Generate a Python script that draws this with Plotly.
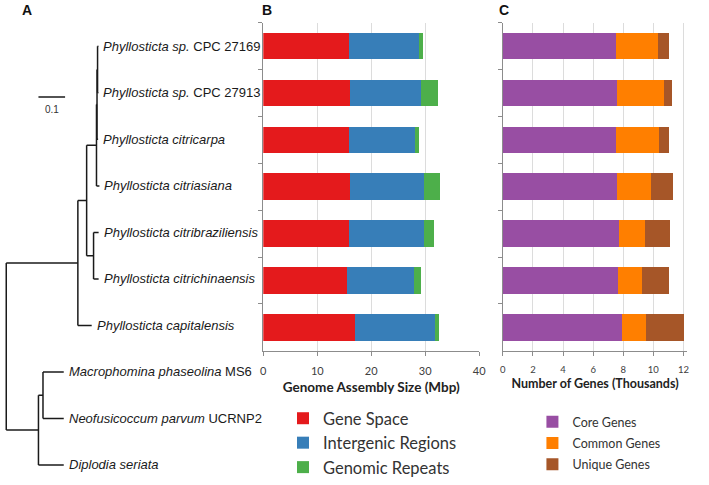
import plotly.graph_objects as go

W, H = 709, 485

# ---------------- data ----------------
species = ["Phyllosticta sp. CPC 27169", "Phyllosticta sp. CPC 27913", "Phyllosticta citricarpa",
           "Phyllosticta citriasiana", "Phyllosticta citribraziliensis", "Phyllosticta citrichinaensis",
           "Phyllosticta capitalensis"]

# Genome assembly size (Mbp)
gene_space = [15.8, 16.0, 15.8, 16.1, 15.9, 15.5, 17.0]
intergenic = [13.0, 13.2, 12.4, 13.6, 13.9, 12.4, 14.9]
repeats = [0.7, 3.1, 0.7, 3.1, 1.9, 1.3, 0.6]

# Number of genes (thousands)
core_genes = [7.52, 7.60, 7.52, 7.56, 7.71, 7.65, 7.89]
common_genes = [2.79, 3.11, 2.86, 2.30, 1.71, 1.62, 1.60]
unique_genes = [0.73, 0.51, 0.66, 1.44, 1.66, 1.77, 2.56]

size_ticks = [0, 10, 20, 30, 40]
gene_ticks = [0, 2, 4, 6, 8, 10, 12]

# Phylogeny: (label, branch length, children); leaf labels with HTML styling
tree = ("root", 0.0, [
    ("P", 0.269, [
        ("Q", 0.033, [
            ("R1", 0.037, [
                ("R2", 0.002, [
                    ("R3", 0.002, [
                        ("<i>Phyllosticta sp.</i> CPC 27169", 0.003, []),
                        ("<i>Phyllosticta sp.</i> CPC 27913", 0.003, []),
                    ]),
                    ("<i>Phyllosticta citricarpa</i>", 0.004, []),
                ]),
                ("<i>Phyllosticta citriasiana</i>", 0.011, []),
            ]),
            ("S", 0.026, [
                ("<i>Phyllosticta citribraziliensis</i>", 0.019, []),
                ("<i>Phyllosticta citrichinaensis</i>", 0.019, []),
            ]),
        ]),
        ("<i>Phyllosticta capitalensis</i>", 0.052, []),
    ]),
    ("O", 0.121, [
        ("T", 0.017, [
            ("<i>Macrophomina phaseolina</i> MS6", 0.078, []),
            ("<i>Neofusicoccum parvum</i> UCRNP2", 0.078, []),
        ]),
        ("<i>Diplodia seriata</i>", 0.095, []),
    ]),
])
scale_bar_length = 0.1

# ---------------- styling ----------------
RED, BLUE, GREEN = "#E41A1C", "#377EB8", "#4DAF4A"
PURPLE, ORANGE, BROWN = "#984EA3", "#FF7F00", "#A65628"
AXIS = "#8c8c8c"
GRID = "#dcdcdc"
LABEL_FONT = "Lato, Open Sans, sans-serif"
TREE_FONT = "Liberation Sans, Arial, sans-serif"

def px_dom_x(a, b):
    return [a / W, b / W]

def px_dom_y(top, bottom):
    return [(H - bottom) / H, (H - top) / H]

# ---------------- tree layout ----------------
leaf_y = {"i": 0}
xs, ys, leaves = [], [], []

def layout(node, x0):
    name, bl, kids = node
    x = x0 + bl
    if not kids:
        y = leaf_y["i"]
        leaf_y["i"] += 1
        leaves.append((name, x, y))
    else:
        cy = [layout(k, x) for k in kids]
        ys_k = [c[1] for c in cy]
        y = (ys_k[0] + ys_k[-1]) / 2
        xs.extend([x, x, None]); ys.extend([ys_k[0], ys_k[-1], None])
        for cx, cyv in cy:
            xs.extend([x, cx, None]); ys.extend([cyv, cyv, None])
    return (x, y)

layout(tree, 0.0)

tree_px_per_unit = 270.0
tree_root_px = 3.3
tree_right_px = 255.0
row0_px, row_step = 47.0, 47.2

fig = go.Figure()

fig.add_trace(go.Scatter(x=xs, y=ys, mode="lines", line=dict(color="#1a1a1a", width=1.5),
                         hoverinfo="skip", showlegend=False, xaxis="x", yaxis="y"))
fig.add_trace(go.Scatter(x=[0.121, 0.121 + scale_bar_length], y=[1.087, 1.087], mode="lines",
                         line=dict(color="#1a1a1a", width=1.5), hoverinfo="skip",
                         showlegend=False, xaxis="x", yaxis="y"))

annotations = []
for name, x, y in leaves:
    annotations.append(dict(x=x, y=y, xref="x", yref="y", text=name, showarrow=False,
                            xanchor="left", yanchor="middle", xshift=3,
                            font=dict(family=TREE_FONT, size=13, color="#1a1a1a")))
annotations.append(dict(x=0.121 + scale_bar_length / 2, y=1.087, xref="x", yref="y", text="0.1",
                        showarrow=False, xanchor="center", yanchor="top", yshift=-5,
                        font=dict(family=TREE_FONT, size=10, color="#333333")))

# ---------------- bars B ----------------
for name, vals, col in [("Gene Space", gene_space, RED),
                        ("Intergenic Regions", intergenic, BLUE),
                        ("Genomic Repeats", repeats, GREEN)]:
    fig.add_trace(go.Bar(x=vals, y=species, orientation="h", name=name, marker_color=col,
                         marker_line_width=0, xaxis="x2", yaxis="y2", legend="legend",
                         legendgroup=name))

# ---------------- bars C ----------------
for name, vals, col in [("Core Genes", core_genes, PURPLE),
                        ("Common Genes", common_genes, ORANGE),
                        ("Unique Genes", unique_genes, BROWN)]:
    fig.add_trace(go.Bar(x=vals, y=species, orientation="h", name=name, marker_color=col,
                         marker_line_width=0, xaxis="x3", yaxis="y3", legend="legend2",
                         legendgroup=name))

for letter, xp in [("A", 24), ("B", 268), ("C", 508)]:
    annotations.append(dict(x=xp / W, y=(H - 10) / H, xref="paper", yref="paper", text=f"<b>{letter}</b>",
                            showarrow=False, xanchor="center", yanchor="middle",
                            font=dict(family=TREE_FONT, size=14, color="#111111")))

cat_axis = dict(type="category", categoryorder="array", categoryarray=species,
                range=[6.5, -0.5], showticklabels=False, ticks="outside", tickson="boundaries",
                ticklen=4, tickcolor=AXIS, showline=True, linecolor=AXIS, linewidth=1,
                showgrid=False, zeroline=False, fixedrange=True)

val_axis = dict(showgrid=True, gridcolor=GRID, gridwidth=1, showline=True, linecolor=AXIS,
                linewidth=1, ticks="outside", ticklen=4, tickcolor=AXIS, zeroline=False,
                tickmode="array", ticklabelstandoff=6)

fig.update_layout(
    width=W, height=H, margin=dict(l=0, r=0, t=0, b=0),
    paper_bgcolor="white", plot_bgcolor="white",
    barmode="stack", bargap=0.43,
    xaxis=dict(domain=px_dom_x(0, tree_right_px),
               range=[-tree_root_px / tree_px_per_unit, (tree_right_px - tree_root_px) / tree_px_per_unit],
               visible=False, fixedrange=True),
    yaxis=dict(domain=[0, 1], range=[(H - row0_px) / row_step, -row0_px / row_step],
               visible=False, fixedrange=True),
    xaxis2=dict(val_axis, domain=px_dom_x(264, 483), range=[0, 40], anchor="y2",
                tickvals=size_ticks, ticktext=[str(t) for t in size_ticks],
                tickfont=dict(family=LABEL_FONT, size=11, color="#404040"),
                title=dict(text="<b>Genome Assembly Size (Mbp)</b>", standoff=6,
                           font=dict(family=LABEL_FONT, size=13.5, color="#222222"))),
    yaxis2=dict(cat_axis, domain=px_dom_y(23, 356), anchor="x2"),
    xaxis3=dict(val_axis, domain=px_dom_x(507, 694), range=[0, 12.25], anchor="y3",
                tickvals=gene_ticks, ticktext=[str(t) for t in gene_ticks],
                tickfont=dict(family=LABEL_FONT, size=9.5, color="#404040"),
                title=dict(text="<b>Number of Genes (Thousands)</b>", standoff=4,
                           font=dict(family=LABEL_FONT, size=12.5, color="#222222"))),
    yaxis3=dict(cat_axis, domain=px_dom_y(23, 356), anchor="x3"),
    legend=dict(x=284 / W, y=(H - 407) / H, xanchor="left", yanchor="top",
                traceorder="grouped", tracegroupgap=0, bgcolor="rgba(0,0,0,0)",
                font=dict(family=LABEL_FONT, size=16.5, color="#333333")),
    legend2=dict(x=537 / W, y=(H - 413) / H, xanchor="left", yanchor="top",
                 traceorder="grouped", tracegroupgap=2, bgcolor="rgba(0,0,0,0)",
                 font=dict(family=LABEL_FONT, size=12.5, color="#333333")),
    annotations=annotations,
    showlegend=True,
)

fig.write_html("out.html", config={"displayModeBar": False},
               post_script="document.body.style.margin='0';")
